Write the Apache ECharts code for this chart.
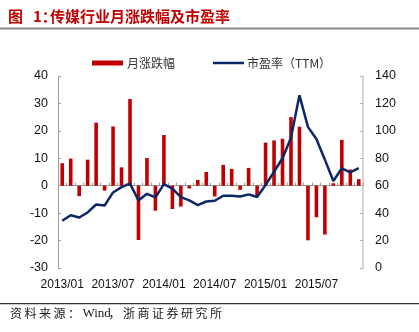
<!DOCTYPE html>
<html>
<head>
<meta charset="utf-8">
<script src="https://cdn.jsdelivr.net/npm/echarts@6/dist/echarts.min.js"></script>
<style>
  html, body { margin: 0; padding: 0; background: #fff; }
  #chart { width: 419px; height: 332px; }
</style>
</head>
<body>
<div id="chart"></div>
<script>
// Monthly categories, 2013/01 – 2015/12
var months = [
  '2013/01','2013/02','2013/03','2013/04','2013/05','2013/06',
  '2013/07','2013/08','2013/09','2013/10','2013/11','2013/12',
  '2014/01','2014/02','2014/03','2014/04','2014/05','2014/06',
  '2014/07','2014/08','2014/09','2014/10','2014/11','2014/12',
  '2015/01','2015/02','2015/03','2015/04','2015/05','2015/06',
  '2015/07','2015/08','2015/09','2015/10','2015/11','2015/12'
];

// Media sector monthly change (%)
var monthlyChange = [
  8.2, 9.9, -3.8, 9.5, 23.0, -1.8, 21.6, 6.7, 31.6, -19.8, 10.1, -9.1,
  18.5, -8.5, -7.6, -1.0, 2.1, 5.0, -3.9, 7.6, 6.1, -1.5, 6.5, -3.8,
  15.7, 16.5, 17.1, 25.0, 21.5, -19.9, -11.5, -17.8, 0.9, 16.7, 5.9, 2.4
];

// Trailing P/E
var peTTM = [
  34.4, 38.5, 36.8, 40.5, 46.3, 45.6, 55.1, 59.0, 61.5, 49.3, 54.1, 51.5,
  61.2, 57.8, 51.7, 49.3, 45.9, 48.5, 49.0, 52.7, 52.7, 52.2, 53.7, 51.8,
  60.5, 70.2, 80.0, 94.9, 125.9, 102.9, 94.1, 79.0, 63.4, 72.7, 69.8, 72.9
];

var seriesNames = ['月涨跌幅', '市盈率（TTM）'];

var RED = '#C00000';
var NAVY = '#0B2766';
var FONT = 'Liberation Sans, Arial, sans-serif';
var CJK = '"Noto Sans CJK SC", sans-serif';

// Source note, laid out with a fixed character pitch
function sourceNote(x, y) {
  var parts = [
    { t: '资料来源：', w: 14.5 },
    { t: 'Wind', w: 0 },
    { t: '，浙商证券研究所', w: 14.5 }
  ];
  var out = [];
  parts.forEach(function (p) {
    if (p.w === 0) {
      out.push({ type: 'text', left: x, top: y, style: { text: p.t, fill: '#222', font: '13px "Liberation Serif", serif' } });
      x += 26;
    } else {
      for (var i = 0; i < p.t.length; i++) {
        out.push({ type: 'text', left: x, top: y, style: { text: p.t[i], fill: '#222', font: '12px ' + CJK } });
        x += p.w;
      }
    }
  });
  return out;
}

var chart = echarts.init(document.getElementById('chart'), null, { renderer: 'canvas' });

chart.setOption({
  animation: false,
  backgroundColor: '#fff',
  graphic: [
    { type: 'text', left: 8, top: 9, style: { text: '图', fill: RED, font: 'bold 15px ' + CJK } },
    { type: 'text', left: 33, top: 9, style: { text: '1：', fill: RED, font: 'bold 15px ' + CJK } },
    { type: 'text', left: 50, top: 9, style: { text: '传媒行业月涨跌幅及市盈率', fill: RED, font: 'bold 15px ' + CJK } },
    { type: 'rect', shape: { x: 0, y: 27.5, width: 419, height: 2 }, style: { fill: '#8a8a8a' } },
    { type: 'rect', shape: { x: 0, y: 303, width: 419, height: 1.2 }, style: { fill: '#333' } }
  ].concat(sourceNote(10, 307)),
  legend: [
    {
      left: 92, top: 57, padding: 0,
      itemWidth: 31, itemHeight: 5, itemGap: 0,
      textStyle: { color: '#333', fontSize: 12, fontFamily: CJK, padding: [0, 0, 0, -1] },
      data: [{ name: seriesNames[0], icon: 'rect' }]
    },
    {
      left: 213, top: 57, padding: 0,
      itemWidth: 31, itemHeight: 2.5, itemGap: 0,
      textStyle: { color: '#333', fontSize: 12, fontFamily: CJK, padding: [0, 0, 0, -2] },
      data: [{ name: seriesNames[1], icon: 'rect', itemStyle: { color: NAVY } }]
    }
  ],
  grid: { left: 58, right: 56, top: 76, bottom: 64, containLabel: false },
  xAxis: [
    {
      type: 'category',
      data: months,
      position: 'bottom',
      axisLine: { show: false, onZero: false },
      axisTick: { show: false },
      axisLabel: { interval: 5, color: '#111', fontSize: 12, fontFamily: FONT, margin: 11 },
      splitLine: { show: false }
    },
    {
      type: 'category',
      data: months,
      position: 'bottom',
      axisLine: { show: true, onZero: true, onZeroAxisIndex: 0, lineStyle: { color: '#9a9a9a', width: 1 } },
      axisTick: { show: true, inside: true, length: 3, interval: 0, lineStyle: { color: '#9a9a9a' } },
      axisLabel: { show: false },
      splitLine: { show: false }
    }
  ],
  yAxis: [
    {
      type: 'value',
      min: -30, max: 40, interval: 10,
      axisLine: { show: true, lineStyle: { color: '#a0a0a0', width: 1 } },
      axisTick: { show: true, inside: true, length: 3, lineStyle: { color: '#a0a0a0' } },
      axisLabel: { color: '#111', fontSize: 12.5, fontFamily: FONT, margin: 10 },
      splitLine: { show: false }
    },
    {
      type: 'value',
      min: 0, max: 140, interval: 20,
      position: 'right',
      axisLine: { show: true, lineStyle: { color: '#c8c8c8', width: 1.5 } },
      axisTick: { show: true, inside: true, length: 3, lineStyle: { color: '#b0b0b0' } },
      axisLabel: { color: '#111', fontSize: 12.5, fontFamily: FONT, margin: 12 },
      splitLine: { show: false }
    }
  ],
  series: [
    {
      name: seriesNames[0],
      type: 'bar',
      xAxisIndex: 0,
      yAxisIndex: 0,
      data: monthlyChange,
      barWidth: 3.6,
      itemStyle: { color: RED }
    },
    {
      name: seriesNames[1],
      type: 'line',
      xAxisIndex: 0,
      yAxisIndex: 1,
      data: peTTM,
      symbol: 'none',
      lineStyle: { color: NAVY, width: 2.5 },
      itemStyle: { color: NAVY },
      z: 3
    }
  ]
});
</script>
</body>
</html>
